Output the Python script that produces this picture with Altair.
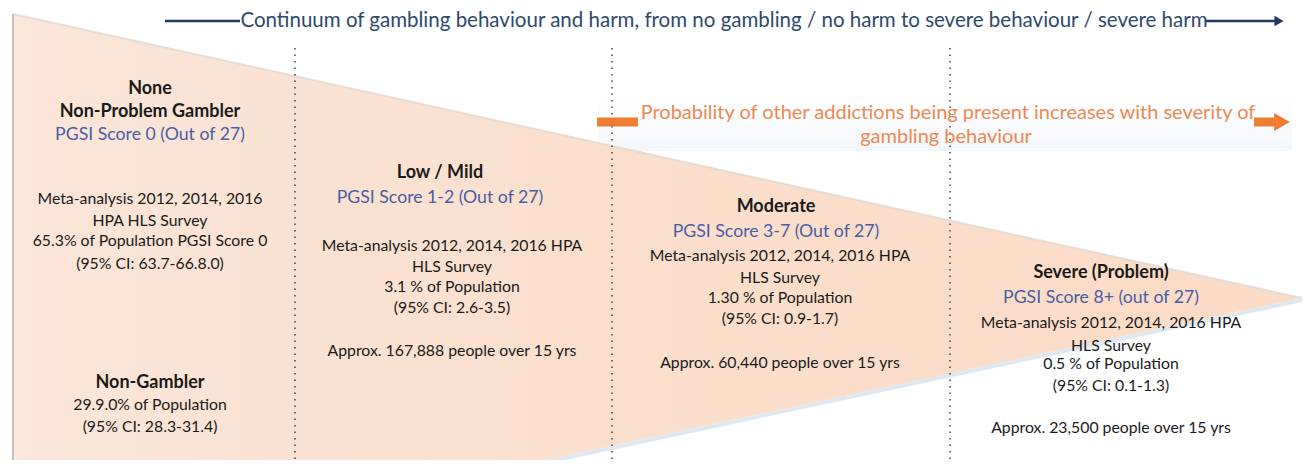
import altair as alt
import pandas as pd

# ---------------- content ----------------
title_text = "Continuum of gambling behaviour and harm, from no gambling / no harm to  severe behaviour / severe harm"
addiction_lines = [
    "Probability of other addictions being present  increases with severity of",
    "gambling behaviour",
]
col_heads = [["None", "Non-Problem Gambler"], ["Low / Mild"], ["Moderate"], ["Severe (Problem)"]]
col_scores = [
    "PGSI Score 0 (Out of 27)",
    "PGSI Score 1-2 (Out of 27)",
    "PGSI Score 3-7 (Out of 27)",
    "PGSI Score 8+ (out of 27)",
]
col_body = [
    ["Meta-analysis 2012, 2014, 2016", "HPA HLS Survey", "65.3% of Population PGSI Score 0", "(95% CI: 63.7-66.8.0)"],
    ["Meta-analysis 2012, 2014, 2016 HPA", "HLS Survey", "3.1 % of Population", "(95% CI: 2.6-3.5)"],
    ["Meta-analysis 2012, 2014, 2016 HPA", "HLS Survey", "1.30 % of Population", "(95% CI: 0.9-1.7)"],
    ["Meta-analysis 2012, 2014, 2016 HPA", "HLS Survey", "0.5 % of Population", "(95% CI: 0.1-1.3)"],
]
col_people = [
    "",
    "Approx. 167,888 people over 15 yrs",
    "Approx. 60,440 people over 15 yrs",
    "Approx. 23,500 people over 15 yrs",
]
non_gambler_head = "Non-Gambler"
non_gambler_body = ["29.9.0% of Population", "(95% CI: 28.3-31.4)"]

# ---------------- layout (pixel space of the picture) ----------------
head_x = [150, 440, 776, 1101]
body_x = [150, 452, 780, 1111]
head_y = [[89, 112], [173], [207], [273]]
score_y = [135, 198, 232, 298]
body_y = [[199, 221, 241, 264], [246, 267, 287, 308], [256, 278, 298, 319], [323, 346, 364, 386]]
people_y = [0, 351, 363, 428]
non_gambler_pos = (150, [383, 405, 427])

wedge_x = [13, 509, 1302]
wedge_top = [14, 123, 298]
wedge_bottom = [468, 468, 298]
divider_x = [295, 612, 950]
divider_y = (48, 468)

BLACK = "#1a1a1a"
BLUE = "#4a5da6"
NAVY = "#1f3864"
TITLE = "#2e4a6c"
ORANGE = "#ed7d31"
ORANGE_TXT = "#eb8a52"
FONT = "Lato"
S_TITLE, S_ORANGE, S_HEAD, S_SCORE, S_BODY = 20.5, 20, 18, 17.7, 15.8

X = alt.X("x:Q", scale=alt.Scale(domain=[8, 1303]), axis=None)
Y = alt.Y("y:Q", scale=alt.Scale(domain=[8, 460], reverse=True), axis=None)

# ---------------- wedge ----------------
wedge_df = pd.DataFrame({"x": wedge_x, "y": wedge_top, "y2": wedge_bottom})
wedge = alt.Chart(wedge_df).mark_area(
    clip=True,
    color=alt.Gradient(
        gradient="linear",
        stops=[
            alt.GradientStop(color="#fbe6d9", offset=0),
            alt.GradientStop(color="#fadfcc", offset=0.45),
            alt.GradientStop(color="#fadbc5", offset=1),
        ],
        x1=0, x2=1, y1=0, y2=0,
    ),
).encode(x=X, y=Y, y2="y2:Q")

top_edge = alt.Chart(pd.DataFrame({"x": [wedge_x[0], wedge_x[2]], "y": [wedge_top[0], wedge_top[2]]})).mark_line(
    clip=True, color="#e2d8d2", strokeWidth=2, opacity=0.8
).encode(x=X, y=Y)
bottom_edge = alt.Chart(pd.DataFrame({"x": [wedge_x[1], wedge_x[2]], "y": [wedge_bottom[1] + 2, wedge_bottom[2] + 2]})).mark_line(
    clip=True, color="#dce6f0", strokeWidth=4, opacity=0.9
).encode(x=X, y=Y)
left_edge = alt.Chart(pd.DataFrame({"x": [wedge_x[0], wedge_x[0]], "y": [wedge_top[0], wedge_bottom[0]]})).mark_line(
    clip=True, color="#c9c1bd", strokeWidth=2
).encode(x=X, y=Y)

# ---------------- orange box background ----------------
box = alt.Chart(pd.DataFrame({"x": [598], "x2": [1292], "y": [97], "y2": [151]})).mark_rect(
    color=alt.Gradient(
        gradient="linear",
        stops=[alt.GradientStop(color="#ffffff", offset=0), alt.GradientStop(color="#f3f6fa", offset=1)],
        x1=0, x2=0, y1=0, y2=1,
    )
).encode(x=X, x2="x2:Q", y=Y, y2="y2:Q")

# ---------------- dividers ----------------
div_df = pd.DataFrame({"x": divider_x, "y": [divider_y[0]] * 3, "y2": [divider_y[1]] * 3})
dividers = alt.Chart(div_df).mark_rule(
    clip=True, color="#444444", strokeWidth=1.5, strokeDash=[1.5, 5]
).encode(x=X, y=Y, y2="y2:Q")

# ---------------- arrows ----------------
navy_seg = pd.DataFrame({"x": [165, 1206], "x2": [240, 1276], "y": [21, 21]})
navy_lines = alt.Chart(navy_seg).mark_rule(color=NAVY, strokeWidth=2.6).encode(x=X, x2="x2:Q", y=Y)
navy_head = alt.Chart(pd.DataFrame({"x": [1279], "y": [21]})).mark_point(
    shape="triangle-right", filled=True, color=NAVY, size=110, opacity=1
).encode(x=X, y=Y)

orange_seg = pd.DataFrame({"x": [597, 1254], "x2": [638, 1279], "y": [122, 122]})
orange_lines = alt.Chart(orange_seg).mark_rule(color=ORANGE, strokeWidth=9).encode(x=X, x2="x2:Q", y=Y)
orange_head = alt.Chart(pd.DataFrame({"x": [1282], "y": [122]})).mark_point(
    shape="triangle-right", filled=True, color=ORANGE, size=330, opacity=1
).encode(x=X, y=Y)

# ---------------- text ----------------
rows = []
rows.append(dict(x=724, y=21, text=title_text, color=TITLE, size=S_TITLE, weight="normal"))
rows.append(dict(x=948, y=113, text=addiction_lines[0], color=ORANGE_TXT, size=S_ORANGE, weight="normal"))
rows.append(dict(x=946, y=137, text=addiction_lines[1], color=ORANGE_TXT, size=S_ORANGE, weight="normal"))
for i in range(4):
    for t, yy in zip(col_heads[i], head_y[i]):
        rows.append(dict(x=head_x[i], y=yy, text=t, color=BLACK, size=S_HEAD, weight="bold"))
    rows.append(dict(x=head_x[i], y=score_y[i], text=col_scores[i], color=BLUE, size=S_SCORE, weight="normal"))
    for t, yy in zip(col_body[i], body_y[i]):
        rows.append(dict(x=body_x[i], y=yy, text=t, color=BLACK, size=S_BODY, weight="normal"))
    if col_people[i]:
        rows.append(dict(x=body_x[i], y=people_y[i], text=col_people[i], color=BLACK, size=S_BODY, weight="normal"))
ngx, ngy = non_gambler_pos
rows.append(dict(x=ngx, y=ngy[0], text=non_gambler_head, color=BLACK, size=S_HEAD, weight="bold"))
for t, yy in zip(non_gambler_body, ngy[1:]):
    rows.append(dict(x=ngx, y=yy, text=t, color=BLACK, size=S_BODY, weight="normal"))
text_df = pd.DataFrame(rows)

def text_layer(weight):
    return alt.Chart(text_df).transform_filter(alt.datum.weight == weight).mark_text(
        font=FONT, fontWeight=weight, align="center", baseline="middle"
    ).encode(
        x=X, y=Y, text="text:N",
        color=alt.Color("color:N", scale=None),
        size=alt.Size("size:Q", scale=None),
    )

chart = alt.layer(
    box, wedge, top_edge, bottom_edge, left_edge, dividers,
    navy_lines, navy_head, orange_lines, orange_head,
    text_layer("normal"), text_layer("bold"),
).properties(
    width=1295, height=452,
    autosize=alt.AutoSizeParams(type="fit", contains="padding"),
    padding=0,
    background="white",
).configure_view(stroke=None)

chart.save("out.html", embed_options={"renderer": "svg", "actions": False})
